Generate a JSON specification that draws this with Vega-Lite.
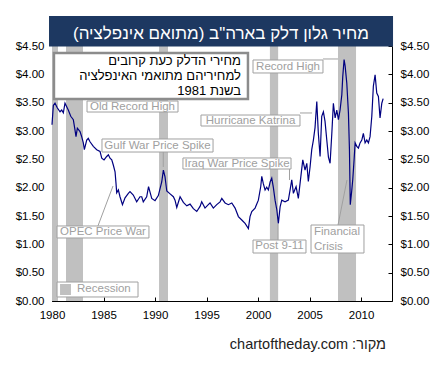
{
  "$schema": "https://vega.github.io/schema/vega-lite/v6.json",
  "width": 340,
  "height": 255,
  "autosize": {"type": "none"},
  "padding": {"left": 52, "top": 46, "right": 44, "bottom": 64},
  "background": "white",
  "config": {"view": {"stroke": null}},
  "datasets": {
    "gas": [
      {"t":1980.00,"p":3.11},{"t":1980.13,"p":3.45},{"t":1980.29,"p":3.49},{"t":1980.51,"p":3.41},{"t":1980.78,"p":3.34},{"t":1980.94,"p":3.37},
      {"t":1981.10,"p":3.32},{"t":1981.26,"p":3.49},{"t":1981.58,"p":3.37},{"t":1981.82,"p":3.26},{"t":1982.07,"p":3.20},{"t":1982.23,"p":3.02},
      {"t":1982.33,"p":2.90},{"t":1982.46,"p":3.05},{"t":1982.72,"p":2.99},{"t":1982.88,"p":2.90},{"t":1983.04,"p":2.79},{"t":1983.14,"p":2.67},
      {"t":1983.37,"p":2.84},{"t":1983.52,"p":2.87},{"t":1983.69,"p":2.81},{"t":1984.01,"p":2.73},{"t":1984.34,"p":2.67},{"t":1984.66,"p":2.64},
      {"t":1984.83,"p":2.52},{"t":1985.05,"p":2.49},{"t":1985.31,"p":2.55},{"t":1985.47,"p":2.58},{"t":1985.63,"p":2.52},{"t":1985.80,"p":2.49},
      {"t":1985.95,"p":2.40},{"t":1986.12,"p":2.28},{"t":1986.21,"p":2.08},{"t":1986.28,"p":1.91},{"t":1986.44,"p":1.96},{"t":1986.60,"p":1.84},
      {"t":1986.84,"p":1.70},{"t":1987.09,"p":1.82},{"t":1987.41,"p":1.90},{"t":1987.57,"p":1.93},{"t":1987.89,"p":1.87},{"t":1988.22,"p":1.75},
      {"t":1988.54,"p":1.84},{"t":1988.71,"p":1.84},{"t":1988.86,"p":1.75},{"t":1989.19,"p":1.84},{"t":1989.37,"p":2.02},{"t":1989.68,"p":1.81},
      {"t":1990.00,"p":1.77},{"t":1990.32,"p":1.86},{"t":1990.65,"p":2.10},{"t":1990.81,"p":2.31},{"t":1990.97,"p":2.19},{"t":1991.14,"p":1.94},
      {"t":1991.46,"p":1.89},{"t":1991.78,"p":1.84},{"t":1991.94,"p":1.78},{"t":1992.11,"p":1.65},{"t":1992.43,"p":1.84},{"t":1992.75,"p":1.74},
      {"t":1993.08,"p":1.68},{"t":1993.40,"p":1.71},{"t":1993.72,"p":1.63},{"t":1994.05,"p":1.58},{"t":1994.37,"p":1.67},{"t":1994.53,"p":1.75},
      {"t":1994.85,"p":1.64},{"t":1995.17,"p":1.70},{"t":1995.34,"p":1.73},{"t":1995.66,"p":1.64},{"t":1995.99,"p":1.70},{"t":1996.31,"p":1.75},
      {"t":1996.48,"p":1.81},{"t":1996.80,"p":1.73},{"t":1997.12,"p":1.70},{"t":1997.45,"p":1.73},{"t":1997.77,"p":1.64},{"t":1998.09,"p":1.49},
      {"t":1998.42,"p":1.43},{"t":1998.74,"p":1.37},{"t":1999.06,"p":1.28},{"t":1999.22,"p":1.49},{"t":1999.39,"p":1.58},{"t":1999.71,"p":1.64},
      {"t":2000.03,"p":1.78},{"t":2000.26,"p":2.02},{"t":2000.36,"p":2.20},{"t":2000.51,"p":2.07},{"t":2000.68,"p":1.96},{"t":2000.84,"p":2.01},
      {"t":2001.00,"p":1.96},{"t":2001.17,"p":2.10},{"t":2001.33,"p":2.17},{"t":2001.48,"p":2.01},{"t":2001.65,"p":1.78},{"t":2001.82,"p":1.61},
      {"t":2001.97,"p":1.37},{"t":2002.14,"p":1.66},{"t":2002.30,"p":1.78},{"t":2002.62,"p":1.75},{"t":2002.94,"p":1.78},{"t":2003.11,"p":1.96},
      {"t":2003.27,"p":2.14},{"t":2003.43,"p":1.90},{"t":2003.69,"p":2.02},{"t":2003.91,"p":1.81},{"t":2004.08,"p":2.08},{"t":2004.34,"p":2.49},
      {"t":2004.56,"p":2.31},{"t":2004.73,"p":2.43},{"t":2004.88,"p":2.11},{"t":2005.05,"p":2.37},{"t":2005.21,"p":2.67},{"t":2005.37,"p":2.84},
      {"t":2005.53,"p":3.06},{"t":2005.70,"p":3.52},{"t":2005.85,"p":2.96},{"t":2006.02,"p":2.55},{"t":2006.18,"p":3.26},{"t":2006.34,"p":3.34},
      {"t":2006.50,"p":3.17},{"t":2006.67,"p":2.84},{"t":2006.83,"p":2.54},{"t":2006.99,"p":2.43},{"t":2007.16,"p":2.96},{"t":2007.31,"p":3.49},
      {"t":2007.48,"p":3.23},{"t":2007.64,"p":3.37},{"t":2007.80,"p":3.20},{"t":2007.96,"p":3.37},{"t":2008.13,"p":3.64},{"t":2008.22,"p":3.96},
      {"t":2008.35,"p":4.26},{"t":2008.45,"p":4.15},{"t":2008.61,"p":3.85},{"t":2008.77,"p":3.32},{"t":2008.87,"p":2.67},{"t":2008.95,"p":1.70},
      {"t":2009.10,"p":1.96},{"t":2009.19,"p":2.14},{"t":2009.32,"p":2.49},{"t":2009.42,"p":2.79},{"t":2009.58,"p":2.73},{"t":2009.74,"p":2.70},
      {"t":2009.90,"p":2.79},{"t":2010.07,"p":2.84},{"t":2010.22,"p":2.96},{"t":2010.39,"p":2.79},{"t":2010.55,"p":2.84},{"t":2010.71,"p":2.79},
      {"t":2010.87,"p":2.90},{"t":2011.04,"p":3.26},{"t":2011.19,"p":3.79},{"t":2011.36,"p":3.99},{"t":2011.52,"p":3.67},{"t":2011.68,"p":3.61},
      {"t":2011.84,"p":3.23},{"t":2012.01,"p":3.49},{"t":2012.14,"p":3.57}
    ],
    "rec": [
      {"start":1980.0,"end":1980.58},
      {"start":1981.36,"end":1983.01},
      {"start":1990.39,"end":1991.26},
      {"start":2001.15,"end":2001.95},
      {"start":2007.76,"end":2009.51}
    ],
    "links": [
      {"x":1990.80,"y":2.629,"x2":1990.80,"y2":2.365},
      {"x":2004.07,"y":3.318,"x2":2005.24,"y2":3.318},
      {"x":2006.30,"y":4.271,"x2":2007.76,"y2":4.271},
      {"x":2003.05,"y":2.329,"x2":2003.05,"y2":2.135},
      {"x":1984.46,"y":1.324,"x2":1985.92,"y2":2.029},
      {"x":2001.94,"y":1.076,"x2":2001.94,"y2":1.359},
      {"x":2007.76,"y":1.341,"x2":2008.63,"y2":2.135}
    ],
    "boxes": [
      {"x1":1983.40,"x2":1992.23,"y1":3.529,"y2":3.335},
      {"x1":1984.85,"x2":1995.63,"y1":2.859,"y2":2.629},
      {"x1":1994.46,"x2":2004.07,"y1":3.282,"y2":3.088},
      {"x1":1999.51,"x2":2006.30,"y1":4.253,"y2":4.024},
      {"x1":1992.71,"x2":2003.20,"y1":2.524,"y2":2.329},
      {"x1":1980.49,"x2":1989.41,"y1":1.324,"y2":1.112},
      {"x1":1999.51,"x2":2004.65,"y1":1.076,"y2":0.847},
      {"x1":2005.14,"x2":2010.28,"y1":1.341,"y2":0.847},
      {"x1":1980.49,"x2":1988.35,"y1":0.335,"y2":0.071}
    ],
    "labels": [
      {"label":"Old Record High","tx":1987.81,"ty":3.432},
      {"label":"Gulf War Price Spike","tx":1990.24,"ty":2.744},
      {"label":"Hurricane Katrina","tx":1999.27,"ty":3.185},
      {"label":"Record High","tx":2002.91,"ty":4.138},
      {"label":"Iraq War Price Spike","tx":1997.96,"ty":2.426},
      {"label":"OPEC Price War","tx":1984.95,"ty":1.218},
      {"label":"Post 9-11","tx":2002.08,"ty":0.962}
    ],
    "leftLabels": [
      {"label":"Financial","tx":2005.43,"ty":1.218},
      {"label":"Crisis","tx":2005.43,"ty":0.953},
      {"label":"Recession","tx":1982.43,"ty":0.203}
    ],
    "swatch": [{"x1":1980.78,"x2":1981.84,"y1":0.300,"y2":0.106}],
    "noteBox": [{"x1":1980.19,"x2":1999.02,"y1":4.376,"y2":3.565}],
    "note": [
      {"line":"מחירי הדלק כעת קרובים","tx":1998.34,"ty":4.235},
      {"line":"למחיריהם מתואמי האינפלציה","tx":1998.34,"ty":3.971},
      {"line":"בשנת 1981","tx":1998.34,"ty":3.706}
    ],
    "titleBox": [{"x1":1979.71,"x2":2013.10,"y1":5.03,"y2":4.49}],
    "title": [{"text":"מחיר גלון דלק בארה\"ב (מתואם אינפלציה)\u200f","tx":1996.40,"ty":4.703}],
    "source": [{"text":"chartoftheday.com :מקור","tx":2012.42,"ty":-0.776}]
  },
  "resolve": {"axis": {"x": "independent", "y": "independent"}},
  "layer": [
    {
      "data": {"name": "rec"},
      "mark": {"type": "rect", "fill": "#c0c0c0"},
      "encoding": {
        "x": {"field": "start", "type": "quantitative", "scale": {"domain": [1980, 2013], "nice": false, "zero": false}, "axis": null},
        "x2": {"field": "end"}
      }
    },
    {
      "data": {"name": "gas"},
      "mark": {"type": "line", "stroke": "#000080", "strokeWidth": 1.2},
      "encoding": {
        "x": {"field": "t", "type": "quantitative", "scale": {"domain": [1980, 2013], "nice": false, "zero": false},
          "axis": {"title": null, "values": [1980, 1985, 1990, 1995, 2000, 2005, 2010], "format": "d", "grid": false,
            "tickSize": -4, "tickColor": "black", "domainColor": "black", "labelColor": "black",
            "labelFont": "Liberation Sans", "labelFontSize": 11.5, "labelPadding": 12, "labelFlush": false}},
        "y": {"field": "p", "type": "quantitative", "scale": {"domain": [0, 4.5], "nice": false, "zero": false},
          "axis": {"title": null, "orient": "left", "values": [0, 0.5, 1, 1.5, 2, 2.5, 3, 3.5, 4, 4.5], "format": "$.2f", "grid": false,
            "tickSize": -4, "tickColor": "black", "domainColor": "black", "labelColor": "black",
            "labelFont": "Liberation Sans", "labelFontSize": 11.5, "labelPadding": 12, "labelFlush": false}}
      }
    },
    {
      "data": {"name": "links"},
      "mark": {"type": "rule", "stroke": "#a0a0a0", "strokeWidth": 1},
      "encoding": {
        "x": {"field": "x", "type": "quantitative", "scale": {"domain": [1980, 2013], "nice": false, "zero": false}, "axis": null},
        "x2": {"field": "x2"},
        "y": {"field": "y", "type": "quantitative", "scale": {"domain": [0, 4.5], "nice": false, "zero": false},
          "axis": {"title": null, "orient": "right", "values": [0, 0.5, 1, 1.5, 2, 2.5, 3, 3.5, 4, 4.5], "format": "$.2f", "grid": false,
            "tickSize": -4, "tickColor": "black", "domainColor": "black", "labelColor": "black",
            "labelFont": "Liberation Sans", "labelFontSize": 11.5, "labelPadding": 12, "labelFlush": false}},
        "y2": {"field": "y2"}
      }
    },
    {
      "data": {"name": "boxes"},
      "mark": {"type": "rect", "fill": "white", "stroke": "#a0a0a0", "strokeWidth": 1},
      "encoding": {
        "x": {"field": "x1", "type": "quantitative", "scale": {"domain": [1980, 2013], "nice": false, "zero": false}, "axis": null},
        "x2": {"field": "x2"},
        "y": {"field": "y1", "type": "quantitative", "scale": {"domain": [0, 4.5], "nice": false, "zero": false}, "axis": null},
        "y2": {"field": "y2"}
      }
    },
    {
      "data": {"name": "labels"},
      "mark": {"type": "text", "align": "center", "baseline": "middle", "font": "Liberation Sans", "fontSize": 11.5, "fill": "#a0a0a0"},
      "encoding": {
        "x": {"field": "tx", "type": "quantitative", "scale": {"domain": [1980, 2013], "nice": false, "zero": false}, "axis": null},
        "y": {"field": "ty", "type": "quantitative", "scale": {"domain": [0, 4.5], "nice": false, "zero": false}, "axis": null},
        "text": {"field": "label"}
      }
    },
    {
      "data": {"name": "leftLabels"},
      "mark": {"type": "text", "align": "left", "baseline": "middle", "font": "Liberation Sans", "fontSize": 11.5, "fill": "#a0a0a0"},
      "encoding": {
        "x": {"field": "tx", "type": "quantitative", "scale": {"domain": [1980, 2013], "nice": false, "zero": false}, "axis": null},
        "y": {"field": "ty", "type": "quantitative", "scale": {"domain": [0, 4.5], "nice": false, "zero": false}, "axis": null},
        "text": {"field": "label"}
      }
    },
    {
      "data": {"name": "swatch"},
      "mark": {"type": "rect", "fill": "#c0c0c0"},
      "encoding": {
        "x": {"field": "x1", "type": "quantitative", "scale": {"domain": [1980, 2013], "nice": false, "zero": false}, "axis": null},
        "x2": {"field": "x2"},
        "y": {"field": "y1", "type": "quantitative", "scale": {"domain": [0, 4.5], "nice": false, "zero": false}, "axis": null},
        "y2": {"field": "y2"}
      }
    },
    {
      "data": {"name": "noteBox"},
      "mark": {"type": "rect", "fill": "white", "stroke": "#8c8c8c", "strokeWidth": 2.5},
      "encoding": {
        "x": {"field": "x1", "type": "quantitative", "scale": {"domain": [1980, 2013], "nice": false, "zero": false}, "axis": null},
        "x2": {"field": "x2"},
        "y": {"field": "y1", "type": "quantitative", "scale": {"domain": [0, 4.5], "nice": false, "zero": false}, "axis": null},
        "y2": {"field": "y2"}
      }
    },
    {
      "data": {"name": "note"},
      "mark": {"type": "text", "align": "right", "baseline": "middle", "font": "Liberation Sans", "fontSize": 13, "fill": "black"},
      "encoding": {
        "x": {"field": "tx", "type": "quantitative", "scale": {"domain": [1980, 2013], "nice": false, "zero": false}, "axis": null},
        "y": {"field": "ty", "type": "quantitative", "scale": {"domain": [0, 4.5], "nice": false, "zero": false}, "axis": null},
        "text": {"field": "line"}
      }
    },
    {
      "data": {"name": "titleBox"},
      "mark": {"type": "rect", "fill": "#1d3861"},
      "encoding": {
        "x": {"field": "x1", "type": "quantitative", "scale": {"domain": [1980, 2013], "nice": false, "zero": false}, "axis": null},
        "x2": {"field": "x2"},
        "y": {"field": "y1", "type": "quantitative", "scale": {"domain": [0, 4.5], "nice": false, "zero": false}, "axis": null},
        "y2": {"field": "y2"}
      }
    },
    {
      "data": {"name": "title"},
      "mark": {"type": "text", "align": "center", "baseline": "middle", "font": "Liberation Sans", "fontSize": 17, "fill": "white"},
      "encoding": {
        "x": {"field": "tx", "type": "quantitative", "scale": {"domain": [1980, 2013], "nice": false, "zero": false}, "axis": null},
        "y": {"field": "ty", "type": "quantitative", "scale": {"domain": [0, 4.5], "nice": false, "zero": false}, "axis": null},
        "text": {"field": "text"}
      }
    },
    {
      "data": {"name": "source"},
      "mark": {"type": "text", "align": "right", "baseline": "middle", "font": "Liberation Sans", "fontSize": 14.5, "fill": "#222222"},
      "encoding": {
        "x": {"field": "tx", "type": "quantitative", "scale": {"domain": [1980, 2013], "nice": false, "zero": false}, "axis": null},
        "y": {"field": "ty", "type": "quantitative", "scale": {"domain": [0, 4.5], "nice": false, "zero": false}, "axis": null},
        "text": {"field": "text"}
      }
    }
  ]
}
